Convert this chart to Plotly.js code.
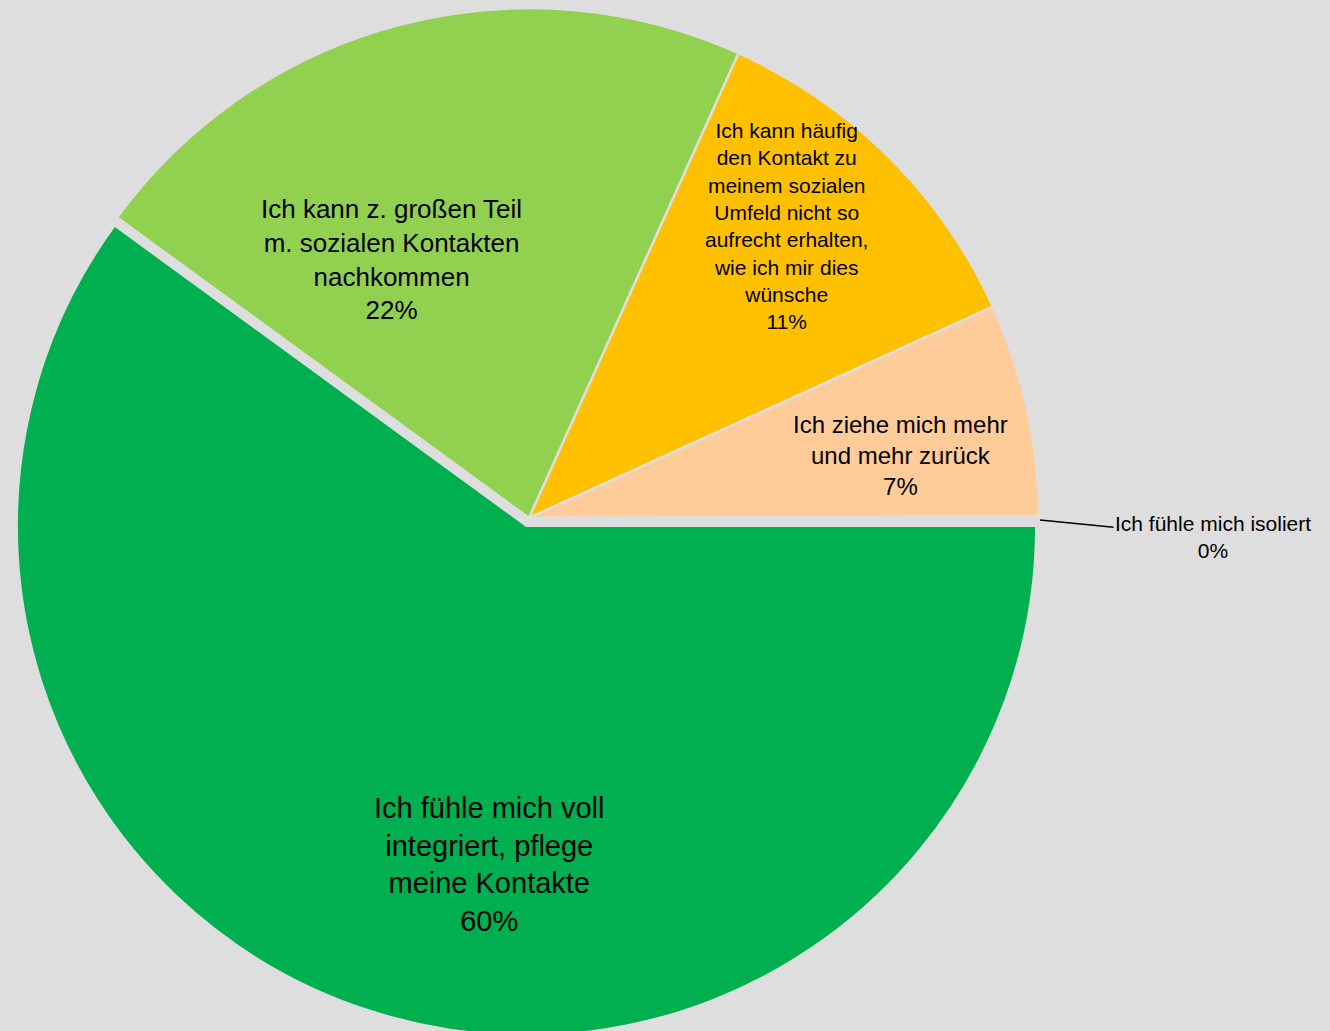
<!DOCTYPE html>
<html>
<head>
<meta charset="utf-8">
<script src="https://cdn.plot.ly/plotly-3.0.1.min.js"></script>
<style>html,body{margin:0;padding:0;background:#DEDEDE;overflow:hidden;}#chart{width:1330px;height:1036px;}</style>
</head>
<body>
<div id="chart"></div>
<script>
// Data
const labels = [
  "Ich fühle mich voll<br>integriert, pflege<br>meine Kontakte",
  "Ich kann z. großen Teil<br>m. sozialen Kontakten<br>nachkommen",
  "Ich kann häufig<br>den Kontakt zu<br>meinem sozialen<br>Umfeld nicht so<br>aufrecht erhalten,<br>wie ich mir dies<br>wünsche",
  "Ich ziehe mich mehr<br>und mehr zurück",
  "Ich fühle mich isoliert"
];
const values = [60.0, 21.7, 11.45, 6.75, 0.05];
const colors = ["#00B050", "#92D050", "#FFC000", "#FFCC99", "#C00000"];

// Label styling / placement (paper coordinates of label centres)
const labelSizes = [29, 26, 21, 24, 21];
const labelX = [0.3677, 0.294, 0.591, 0.6774, 0.782];
const labelY = [0.1655, 0.75, 0.7814, 0.5608, 0.4981];

const bg = "#DEDEDE";
const font = "Liberation Sans, Arial, sans-serif";
const total = values.reduce((a, b) => a + b, 0);
const pctText = values.map(v => Math.round(v / total * 100) + "%");

const trace = {
  type: "pie",
  labels: labels,
  values: values,
  sort: false,
  direction: "clockwise",
  rotation: 90,
  pull: [0.016, 0, 0, 0, 0],
  marker: { colors: colors, line: { color: bg, width: 2.5 } },
  textinfo: "none",
  hoverinfo: "label+percent",
  domain: { x: [0.00827, 0.78722], y: [0, 1] },
  automargin: false
};

const annotations = labels.map((lab, i) => {
  const a = {
    xref: "paper", yref: "paper",
    x: labelX[i], y: labelY[i],
    xanchor: "center", yanchor: "middle",
    text: lab + "<br>" + pctText[i],
    showarrow: false,
    align: "center",
    font: { family: font, size: labelSizes[i], color: "#000000" }
  };
  if (i === 4) {
    // leader line from the slice edge to the outside label
    a.showarrow = true;
    a.arrowhead = 0;
    a.arrowwidth = 1.5;
    a.arrowcolor = "#000000";
    a.ax = 173; a.ay = 17;
    a.axref = "pixel"; a.ayref = "pixel";
    delete a.xanchor; delete a.yanchor;
  }
  return a;
});

const layout = {
  width: 1330,
  height: 1036,
  paper_bgcolor: bg,
  plot_bgcolor: bg,
  margin: { l: 0, r: 0, t: 0, b: 0 },
  showlegend: false,
  font: { family: font, color: "#000000" },
  annotations: annotations
};

Plotly.newPlot("chart", [trace], layout, { displayModeBar: false, staticPlot: true });
</script>
</body>
</html>
